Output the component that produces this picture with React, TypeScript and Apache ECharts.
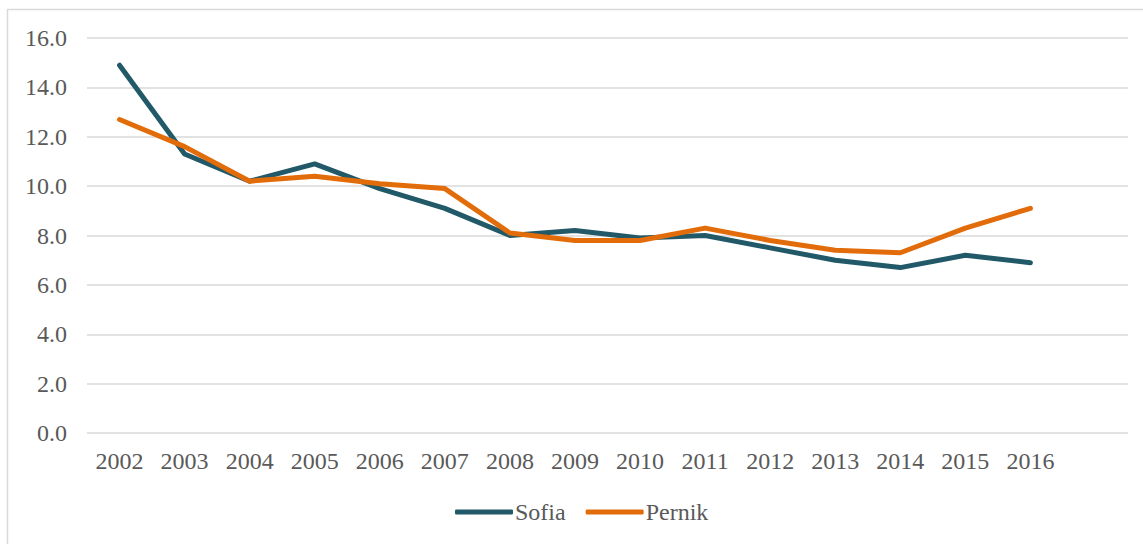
import React, { useEffect, useRef } from "react";
import * as echarts from "echarts";

const years = ["2002","2003","2004","2005","2006","2007","2008","2009","2010","2011","2012","2013","2014","2015","2016",""];
const sofia = [14.9, 11.3, 10.2, 10.9, 9.9, 9.1, 8.0, 8.2, 7.9, 8.0, 7.5, 7.0, 6.7, 7.2, 6.9];
const pernik = [12.7, 11.6, 10.2, 10.4, 10.1, 9.9, 8.1, 7.8, 7.8, 8.3, 7.8, 7.4, 7.3, 8.3, 9.1];
const seriesNames = ["Sofia", "Pernik"];
const colors = ["#215968", "#E36C0A"];

export default function App() {
  const ref = useRef<HTMLDivElement>(null);
  useEffect(() => {
    if (!ref.current) return;
    const chart = echarts.init(ref.current, undefined, { renderer: "svg" });
    const font = "'Liberation Serif', 'DejaVu Serif', serif";
    chart.setOption({
      animation: false,
      graphic: [
        {
          type: "rect",
          shape: { x: 7.5, y: 9.5, width: 1200, height: 600 },
          style: { fill: "none", stroke: "#D9D9D9", lineWidth: 1.5 },
          silent: true,
        },
      ],
      grid: { left: 87, right: 15, top: 38, bottom: 111, containLabel: false },
      legend: {
        bottom: 20,
        left: 455,
        padding: 0,
        itemWidth: 58,
        itemHeight: 5,
        itemGap: 20,
        icon: "roundRect",
        textStyle: { fontFamily: font, fontSize: 24, color: "#595959", padding: [0, 0, 0, -3] },
        data: seriesNames,
      },
      xAxis: {
        type: "category",
        data: years,
        boundaryGap: true,
        axisLine: { show: false },
        axisTick: { show: false },
        axisLabel: { fontFamily: font, fontSize: 24, color: "#595959", margin: 16, interval: 0 },
      },
      yAxis: {
        type: "value",
        min: 0,
        max: 16,
        interval: 2,
        axisLine: { show: false },
        axisTick: { show: false },
        splitLine: { lineStyle: { color: "#D9D9D9", width: 1.5 } },
        axisLabel: {
          fontFamily: font,
          fontSize: 24,
          color: "#595959",
          margin: 20,
          formatter: (v: number) => v.toFixed(1),
        },
      },
      series: [
        {
          name: seriesNames[0],
          type: "line",
          data: sofia,
          symbol: "none",
          lineStyle: { color: colors[0], width: 5, cap: "round", join: "round" },
          itemStyle: { color: colors[0] },
        },
        {
          name: seriesNames[1],
          type: "line",
          data: pernik,
          symbol: "none",
          lineStyle: { color: colors[1], width: 5, cap: "round", join: "round" },
          itemStyle: { color: colors[1] },
        },
      ],
    });
    return () => chart.dispose();
  }, []);
  return (
    <div
      ref={ref}
      style={{ position: "fixed", left: 0, top: 0, width: 1143, height: 544, background: "#fff" }}
    />
  );
}
